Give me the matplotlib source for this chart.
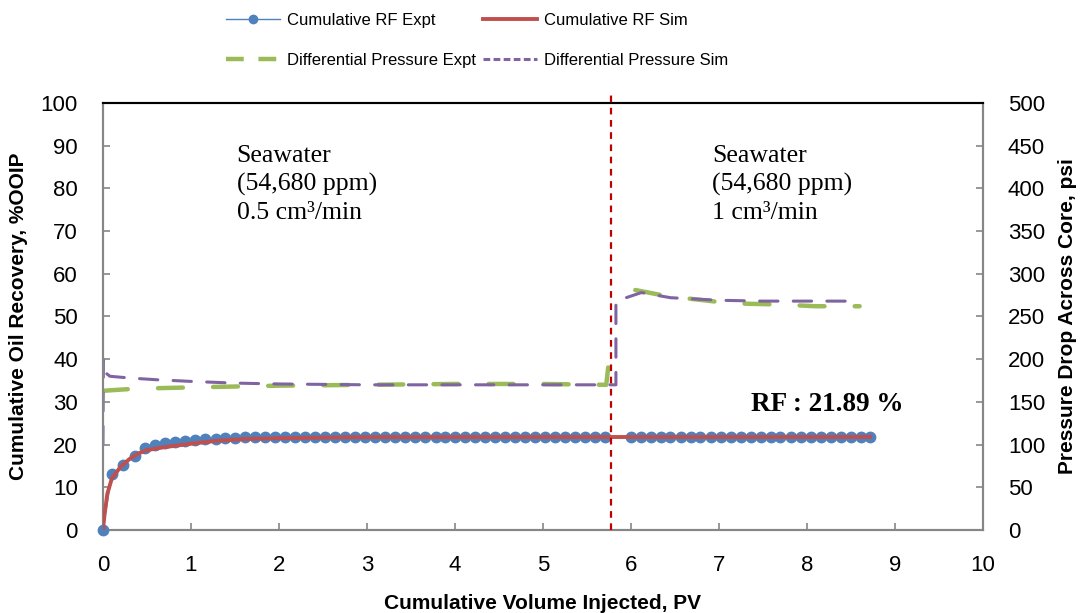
import matplotlib
matplotlib.use('Agg')
import matplotlib.pyplot as plt
from matplotlib.lines import Line2D
import numpy as np

# cumulative RF, experiment (PV injected, %OOIP)
rf_expt_pv = [0.00, 0.10, 0.23, 0.36, 0.48, 0.59, 0.71, 0.82, 0.93, 1.05,
              1.16, 1.28, 1.39, 1.50, 1.62, 1.73, 1.84, 1.96, 2.07, 2.18,
              2.30, 2.41, 2.52, 2.64, 2.75, 2.87, 2.98, 3.09, 3.21, 3.32,
              3.43, 3.55, 3.66, 3.78, 3.89, 4.00, 4.12, 4.23, 4.34, 4.46,
              4.57, 4.68, 4.80, 4.91, 5.02, 5.14, 5.25, 5.37, 5.48, 5.59,
              5.71, 6.00, 6.11, 6.23, 6.34, 6.45, 6.57, 6.68, 6.79, 6.91,
              7.02, 7.14, 7.25, 7.36, 7.48, 7.59, 7.70, 7.82, 7.93, 8.05,
              8.16, 8.27, 8.39, 8.50, 8.61, 8.72]
rf_expt = [0.0, 13.0, 15.2, 17.3, 19.3, 19.9, 20.3, 20.6, 20.8, 21.0,
           21.2, 21.35, 21.5, 21.6, 21.7, 21.75, 21.8, 21.85, 21.89, 21.89,
           21.89, 21.89, 21.89, 21.89, 21.89, 21.89, 21.89, 21.89, 21.89, 21.89,
           21.89, 21.89, 21.89, 21.89, 21.89, 21.89, 21.89, 21.89, 21.89, 21.89,
           21.89, 21.89, 21.89, 21.89, 21.89, 21.89, 21.89, 21.89, 21.89, 21.89,
           21.89, 21.89, 21.89, 21.89, 21.89, 21.89, 21.89, 21.89, 21.89, 21.89,
           21.89, 21.89, 21.89, 21.89, 21.89, 21.89, 21.89, 21.89, 21.89, 21.89,
           21.89, 21.89, 21.89, 21.89, 21.89, 21.89]

# cumulative RF, simulation
rf_sim_pv = [0.00, 0.02, 0.05, 0.10, 0.20, 0.30, 0.40, 0.50, 0.70, 1.00,
             1.30, 1.60, 2.00, 2.50, 3.00, 8.72]
rf_sim = [0.0, 4.0, 8.5, 12.0, 14.8, 16.6, 17.9, 18.7, 19.4, 20.2,
          20.9, 21.3, 21.5, 21.65, 21.75, 21.8]

# differential pressure, experiment (psi)
dp_expt_pv = [0.00, 0.30, 0.60, 1.00, 1.50, 2.00, 3.00, 4.00, 5.00, 5.72,
              5.76, np.nan, 6.05, 6.40, 7.00, 7.30, 7.70, 8.10, 8.60]
dp_expt = [163, 165, 166, 167, 168, 169, 170, 171, 171, 170,
           207, np.nan, 281, 274, 267, 265, 264, 262, 262]

# differential pressure, simulation (psi)
dp_sim_pv = [0.00, 0.005, 0.03, 0.08, 0.30, 0.60, 1.00, 1.50, 2.00, 3.00,
             4.00, 5.00, 5.83, 5.83, 6.12, 6.45, 7.00, 7.50, 8.00, 8.52]
dp_sim = [100, 200, 184, 180, 178, 176, 174, 172, 171, 170,
          170, 170, 170, 268, 278, 272, 269, 268, 268, 268]

switch_pv = 5.77

c_blue = '#4F81BD'
c_red = '#C0504D'
c_green = '#9BBB59'
c_purple = '#8064A2'
c_axis = '#868686'

fig = plt.figure(figsize=(10.86, 6.13), dpi=100)
ax = fig.add_axes([0.0948, 0.1354, 0.8102, 0.6966])
ax2 = ax.twinx()

# pressure on secondary axis
ax2.plot(dp_expt_pv, dp_expt, color=c_green, lw=3.2, dashes=(5.6, 6.8),
         solid_capstyle='round', dash_capstyle='round')
ax2.plot(dp_sim_pv, dp_sim, color=c_purple, lw=2.2, dashes=(6, 5),
         dash_capstyle='round')
ax2.set_ylim(0, 500)
ax2.set_yticks(np.arange(0, 501, 50))

# recovery on primary axis
ax.plot(rf_expt_pv, rf_expt, color=c_blue, lw=1, marker='o', ms=8.5,
        markeredgewidth=0, zorder=3, clip_on=False)
ax.plot(rf_sim_pv, rf_sim, color=c_red, lw=2.8, zorder=4)
ax.plot([switch_pv, switch_pv], [0, 102.5], color='#C00000', lw=1.6,
        dashes=(3, 2.5), clip_on=False, zorder=5)
ax.set_zorder(ax2.get_zorder() + 1)
ax.patch.set_visible(False)

ax.set_xlim(0, 10)
ax.set_ylim(0, 100)
ax.set_xticks(range(0, 11))
ax.set_yticks(range(0, 101, 10))

for a in (ax, ax2):
    for s in a.spines.values():
        s.set_color(c_axis)
        s.set_linewidth(1.5)
    a.spines['top'].set_color('black')
    a.tick_params(direction='in', length=5, width=1.2, color=c_axis,
                  labelsize=16, pad=18)
    for lab in a.get_xticklabels() + a.get_yticklabels():
        lab.set_family('Liberation Sans')
ax.tick_params(axis='x', pad=18)

ax.set_xlabel('Cumulative Volume Injected, PV', fontsize=15,
              fontweight='bold', family='Liberation Sans', labelpad=13)
ax.set_ylabel('Cumulative Oil Recovery, %OOIP', fontsize=15,
              fontweight='bold', family='Liberation Sans', labelpad=9)
ax2.set_ylabel('Pressure Drop Across Core, psi', fontsize=15,
               fontweight='bold', family='Liberation Sans', labelpad=9)

ax.text(1.52, 81, 'Seawater\n(54,680 ppm)\n0.5 cm³/min', fontsize=18.5,
        family='Liberation Serif', va='center', ha='left', linespacing=1.35)
ax.text(6.92, 81, 'Seawater\n(54,680 ppm)\n1 cm³/min', fontsize=18.5,
        family='Liberation Serif', va='center', ha='left', linespacing=1.35)
ax.text(7.37, 29.3, 'RF : 21.89 %', fontsize=19.5, fontweight='bold',
        family='Liberation Serif', va='center', ha='left')

handles = [
    Line2D([], [], color=c_blue, lw=1, marker='o', ms=7, markeredgewidth=0),
    Line2D([], [], color=c_green, lw=3.2, dashes=(4, 3.3)),
    Line2D([], [], color=c_red, lw=2.8),
    Line2D([], [], color=c_purple, lw=2.2, dashes=(2.2, 1.1)),
]
labels = ['Cumulative RF Expt', 'Differential Pressure Expt',
          'Cumulative RF Sim', 'Differential Pressure Sim']
fig.legend(handles, labels, loc='upper left', bbox_to_anchor=(0.197, 0.998),
           ncol=2, frameon=False, prop={'family': 'Liberation Sans', 'size': 12},
           handlelength=3.24, handletextpad=0.45, columnspacing=0.4,
           labelspacing=1.5, borderpad=0.2)

fig.savefig('out.png', dpi=100)
